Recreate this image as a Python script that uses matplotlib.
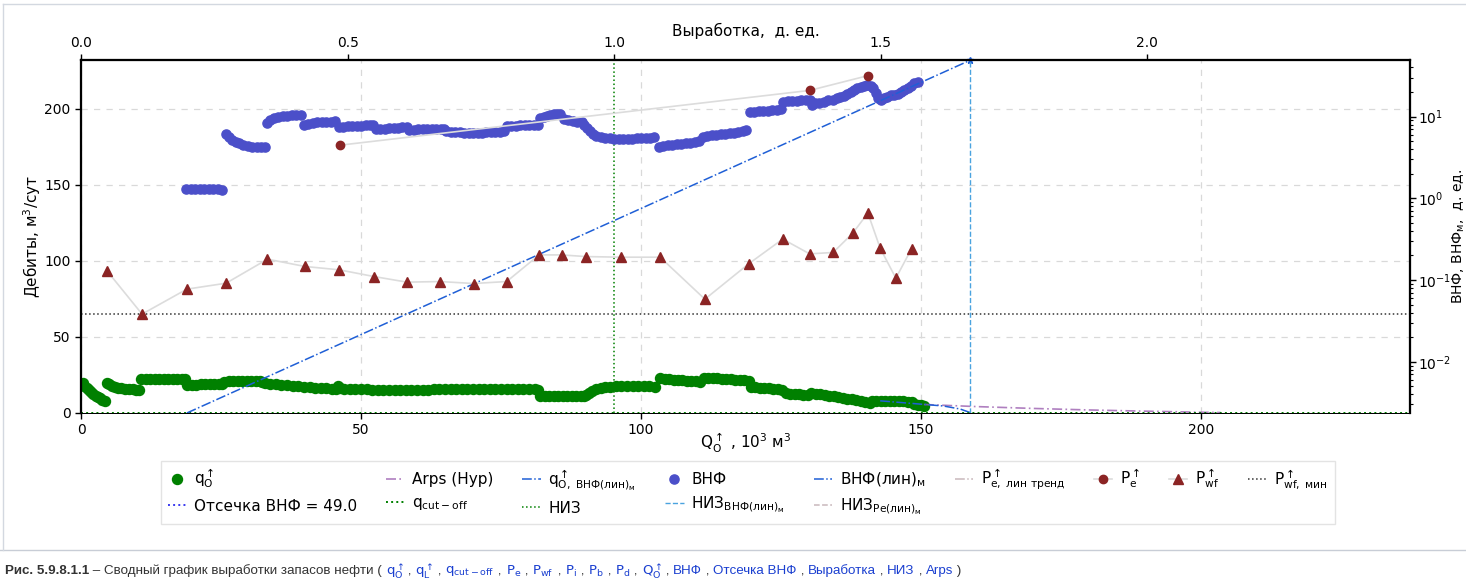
import numpy as np
import matplotlib
matplotlib.use('Agg')
import matplotlib.pyplot as plt

# ---------------- data ----------------
# q_O (left axis, м3/сут) vs Q_O (10^3 м3)
qo_Q = ([0.3, 0.6, 1.0, 1.4, 1.8, 2.2, 2.6, 3.0, 3.4, 3.8, 4.3]
        + [4.6, 5.0, 5.5, 6.0, 6.6, 7.2, 7.8, 8.5, 9.2, 9.8, 10.4]
        + [10.8, 11.6, 12.4, 13.2, 14.0, 14.8, 15.6, 16.4, 17.2, 18.0, 18.6]
        + [19.0, 19.8, 20.6, 21.4, 22.2, 23.0, 23.8, 24.6, 25.2]
        + [25.6, 26.4, 27.2, 28.0, 28.8, 29.6, 30.4, 31.2, 32.0, 32.4]
        + [32.8, 33.8, 34.8, 35.8, 36.8, 37.8, 38.8, 39.8, 40.8, 41.8, 42.8, 43.8, 44.8, 45.5, 45.8, 46.2]
        + [47.0, 48.0, 49.0, 50.0, 51.0, 52.0, 53.0, 54.0, 55.0, 56.0, 57.0, 58.0, 59.0, 60.0, 61.0,
           62.0, 63.0, 64.0, 65.0, 66.0, 67.0, 68.0, 69.0, 70.0, 71.0, 72.0, 73.0, 74.0, 75.0, 76.0,
           77.0, 78.0, 79.0, 80.0, 81.0, 81.6]
        + [82.0, 82.8, 83.6, 84.4, 85.2, 86.0, 86.8, 87.6, 88.4, 89.2, 89.8]
        + [90.2, 90.7, 91.3, 92.0, 92.8]
        + [93.5, 94.5, 95.5, 96.5, 97.5, 98.5, 99.5, 100.5, 101.5, 102.5]
        + [103.4, 104.2, 105.0, 105.8, 106.6, 107.4, 108.2, 109.0, 109.8, 110.6]
        + [111.2, 112.0, 112.8, 113.6, 114.4, 115.2, 116.0, 116.8, 117.6, 118.4, 119.2]
        + [119.6, 120.4, 121.2, 122.0, 122.8, 123.6, 124.4, 125.2]
        + [125.8, 126.6, 127.4, 128.2, 129.0, 129.8]
        + [130.4, 131.2, 132.0, 132.8, 133.6, 134.4, 135.2, 136.0, 136.8, 137.6, 138.4, 139.2, 140.0, 140.8]
        + [141.2, 142.0, 142.8, 143.6, 144.4, 145.2, 146.0, 146.8, 147.6, 148.4]
        + [148.8, 149.4, 150.0, 150.6])
qo = ([19.6, 18.0, 16.2, 14.8, 13.6, 12.5, 11.5, 10.6, 9.7, 8.8, 8.0]
      + [19.8, 18.8, 17.9, 17.2, 16.7, 16.3, 16.0, 15.7, 15.5, 15.4, 15.3]
      + [22.2, 22.3, 22.3, 22.4, 22.4, 22.5, 22.5, 22.6, 22.6, 22.6, 22.5]
      + [18.4, 18.6, 18.7, 18.8, 18.9, 18.9, 19.0, 19.1, 19.2]
      + [20.7, 20.8, 20.8, 20.9, 20.9, 20.9, 20.9, 20.8, 20.8, 20.6]
      + [19.6, 19.2, 18.8, 18.5, 18.2, 17.9, 17.6, 17.3, 17.0, 16.7, 16.4, 16.2, 16.0, 16.0, 17.8, 16.2]
      + [15.8, 15.7, 15.6, 15.5, 15.5, 15.4, 15.4, 15.3, 15.3, 15.3, 15.2, 15.2, 15.2, 15.3, 15.3,
         15.4, 15.5, 15.6, 15.7, 15.7, 15.7, 15.8, 15.8, 15.8, 15.9, 15.9, 15.9, 16.0, 16.0, 16.0,
         15.9, 15.8, 15.7, 15.6, 15.5, 15.4]
      + [11.0, 11.0, 10.9, 10.9, 10.9, 11.0, 11.0, 11.1, 11.1, 11.2, 11.3]
      + [11.8, 13.2, 14.6, 15.8, 16.6]
      + [16.9, 17.2, 17.5, 17.7, 17.8, 17.9, 17.9, 17.8, 17.6, 17.3]
      + [23.2, 22.6, 22.2, 21.9, 21.7, 21.5, 21.3, 21.1, 20.9, 20.5]
      + [23.2, 23.0, 22.8, 22.7, 22.5, 22.3, 22.1, 21.9, 21.7, 21.4, 21.0]
      + [17.2, 16.9, 16.7, 16.5, 16.3, 16.0, 15.6, 15.0]
      + [12.9, 12.6, 12.4, 12.3, 12.1, 12.0]
      + [13.2, 12.7, 12.2, 11.7, 11.3, 10.9, 10.5, 10.0, 9.5, 9.0, 8.3, 7.6, 7.0, 6.4]
      + [7.6, 7.9, 8.0, 7.9, 8.2, 8.0, 7.8, 7.7, 7.5, 7.0]
      + [5.8, 5.3, 5.0, 4.7])

# ВНФ (right log axis, д. ед.)
wor_Q = ([18.8, 19.6, 20.4, 21.2, 22.0, 22.8, 23.6, 24.4, 25.2]
         + [25.9, 26.4, 27.0, 27.6, 28.3, 29.0, 29.8, 30.6, 31.4, 32.2, 32.8]
         + [33.2, 33.8, 34.5, 35.2, 36.0, 36.8, 37.6, 38.4, 39.2]
         + [39.9, 40.6, 41.4, 42.2, 43.0, 43.8, 44.6, 45.4]
         + [46.0, 46.8, 47.6, 48.4, 49.2, 50.0, 50.8, 51.6, 52.2]
         + [52.6, 53.4, 54.2, 55.0, 55.8, 56.6, 57.4, 58.2]
         + [58.6, 59.4, 60.2, 61.0, 61.8, 62.6, 63.4, 64.2, 64.8]
         + [65.2, 66.0, 66.8, 67.6, 68.4, 69.2, 70.0, 70.8, 71.6, 72.4, 73.2, 74.0, 74.8, 75.6]
         + [76.0, 76.8, 77.6, 78.4, 79.2, 80.0, 80.8, 81.6]
         + [82.0, 82.6, 83.2, 83.8, 84.4, 85.0, 85.6]
         + [86.2, 87.0, 87.8, 88.6, 89.4, 89.9, 90.4, 90.9, 91.4, 92.0, 92.8, 93.6, 94.4, 95.2,
            96.0, 96.8, 97.6, 98.4, 99.2, 100.0, 100.8, 101.6, 102.4]
         + [103.2, 104.0, 104.8, 105.6, 106.4, 107.2, 108.0, 108.8, 109.6, 110.4]
         + [111.0, 111.8, 112.6, 113.4, 114.2, 115.0, 115.8, 116.6, 117.4, 118.2, 118.8]
         + [119.4, 120.2, 121.0, 121.8, 122.6, 123.4, 124.2, 125.0]
         + [125.4, 126.2, 127.0, 127.8, 128.6, 129.4, 130.2, 130.6]
         + [131.0, 131.8, 132.6, 133.4, 134.2, 135.0]
         + [135.6, 136.2, 136.8, 137.4, 138.0, 138.6, 139.2, 139.8, 140.4, 141.0, 141.5, 141.9, 142.3]
         + [142.8, 143.4, 144.0, 144.6, 145.2, 145.8, 146.4, 147.0, 147.6, 148.2, 148.8, 149.4])
wor = ([1.30, 1.30, 1.30, 1.30, 1.29, 1.29, 1.29, 1.29, 1.28]
       + [6.1, 5.6, 5.2, 4.9, 4.7, 4.55, 4.4, 4.3, 4.25, 4.2, 4.2]
       + [8.3, 9.1, 9.6, 9.9, 10.1, 10.3, 10.4, 10.5, 10.6]
       + [7.9, 8.2, 8.4, 8.5, 8.6, 8.7, 8.7, 8.8]
       + [7.4, 7.5, 7.6, 7.6, 7.7, 7.7, 7.8, 7.8, 7.9]
       + [7.0, 7.1, 7.1, 7.2, 7.3, 7.3, 7.4, 7.5]
       + [6.9, 6.9, 7.0, 7.0, 7.0, 7.0, 7.1, 7.1, 7.1]
       + [6.6, 6.55, 6.5, 6.45, 6.4, 6.4, 6.4, 6.4, 6.4, 6.45, 6.5, 6.5, 6.55, 6.6]
       + [7.6, 7.7, 7.7, 7.8, 7.8, 7.9, 7.9, 8.0]
       + [9.5, 9.9, 10.2, 10.5, 10.7, 10.8, 10.8]
       + [9.3, 9.1, 8.9, 8.7, 8.5, 8.0, 7.3, 6.6, 6.1, 5.8, 5.6, 5.5, 5.45, 5.4,
          5.4, 5.4, 5.4, 5.4, 5.45, 5.45, 5.5, 5.5, 5.6]
       + [4.3, 4.35, 4.45, 4.5, 4.6, 4.65, 4.75, 4.8, 4.9, 5.0]
       + [5.7, 5.8, 5.9, 6.0, 6.1, 6.2, 6.3, 6.4, 6.5, 6.65, 6.8]
       + [11.3, 11.5, 11.7, 11.8, 11.9, 12.0, 12.2, 12.4]
       + [15.2, 15.4, 15.5, 15.7, 15.8, 16.0, 16.2, 14.0]
       + [14.5, 14.9, 15.3, 15.8, 16.2, 16.8]
       + [17.2, 17.8, 18.8, 20.0, 21.2, 22.3, 23.2, 24.0, 24.4, 23.8, 22.5, 19.5, 17.0]
       + [16.2, 16.8, 17.5, 18.2, 18.6, 19.2, 20.0, 21.0, 22.5, 24.0, 25.5, 26.5])

# pressures (left axis)
pe_Q = [46.2, 130.1, 140.5]
pe = [176.0, 212.0, 221.7]
pwf_Q = [4.6, 10.9, 18.9, 25.9, 33.3, 40.0, 46.1, 52.3, 58.2, 64.1, 70.1, 76.0, 81.8, 85.8,
         90.2, 96.5, 103.4, 111.4, 119.2, 125.3, 130.1, 134.3, 137.8, 140.5, 142.7, 145.5, 148.3]
pwf = [93.6, 65.0, 81.4, 85.3, 101.1, 96.3, 94.1, 89.7, 86.0, 86.4, 85.1, 86.4, 103.9, 103.9,
       102.8, 102.4, 102.4, 74.8, 98.0, 114.3, 104.6, 105.5, 118.2, 131.4, 108.3, 88.6, 108.0]
pwf_min = 65.0

# forecasts
arps_Q = [150.5, 160.0, 170.0, 180.0, 190.0, 200.0, 203.5]
arps_q = [5.6, 4.2, 3.0, 2.0, 1.2, 0.5, 0.3]
qo_wor_Q = [142.7, 146.0, 150.0, 154.0, 157.0, 158.75]
qo_wor_q = [8.0, 7.0, 5.8, 4.6, 2.6, 0.3]
wor_lin_Q = [18.9, 158.75]
wor_lin = [0.00236, 49.0]

wor_cutoff = 49.0
q_cutoff = 0.0
niz = 95.2            # НИЗ, 10^3 м3
niz_wor = 158.75      # НИЗ по ВНФ(лин)м

# ---------------- figure ----------------
plt.rcParams['font.family'] = ['DejaVu Sans']
plt.rcParams['mathtext.fontset'] = 'dejavusans'

fig = plt.figure(figsize=(14.66, 5.79), dpi=100)
ax = fig.add_axes([81 / 1466, 1 - 413 / 579, 1329 / 1466, 353 / 579])
ax_r = ax.twinx()
ax_p = ax.twinx()
ax_t = ax.twiny()

x_max = 237.3
ax.set_xlim(0, x_max)
ax.set_ylim(0, 232)
ax_p.set_ylim(0, 232)
ax_r.set_yscale('log')
ax_r.set_ylim(0.00236, 49.4)
ax_t.set_xlim(0, x_max / niz)

grid_kw = dict(color='#d9d9d9', ls=(0, (5, 5)), lw=0.9)
ax.grid(True, **grid_kw)

# left axis series
h_qo, = ax.plot(qo_Q, qo, 'o', color='green', ms=7.2, mec='green', ls='none', label='$\\mathrm{q}_\\mathrm{O}^{\\uparrow}$')
h_arps, = ax.plot(arps_Q, arps_q, ls=(0, (6, 2, 1, 2)), color='#9b5fb0', lw=1.2, alpha=0.8, label='Arps (Hyp)')
h_qow, = ax.plot(qo_wor_Q, qo_wor_q, ls='-.', color='#1f5fd6', lw=1.1,
                 label='$\\mathrm{q}^{\\uparrow}_{\\mathrm{O,\\ ВНФ(лин)_м}}$')
h_qcut = ax.axhline(q_cutoff, color='green', ls=':', lw=1.4, clip_on=False, zorder=5,
                    label='$\\mathrm{q}_{\\mathrm{cut-off}}$')
h_niz = ax.axvline(niz, color='green', ls=':', lw=1.1, label='НИЗ')
h_pwfmin = ax.axhline(pwf_min, color='#333333', ls=':', lw=1.1,
                      label='$\\mathrm{P}^{\\uparrow}_{\\mathrm{wf,\\ мин}}$')

# right (log) axis series
h_wor, = ax_r.plot(wor_Q, wor, 'o', color='#4b4fc9', mec='#4b4fc9', ms=6.6, ls='none', label='ВНФ')
h_worlin, = ax_r.plot(wor_lin_Q, wor_lin, ls='-.', color='#1f5fd6', lw=1.1, label='ВНФ(лин)$_\\mathrm{м}$')
ax_r.plot([niz_wor], [wor_cutoff], '*', color='#1f5fd6', ms=5, clip_on=False)
h_cut = ax_r.axhline(wor_cutoff, color='#3a3af0', ls=':', lw=1.4, label='Отсечка ВНФ = 49.0')
h_nizw = ax_r.axvline(niz_wor, color='#4aa3df', ls='--', lw=1.0,
                      label='НИЗ$_{\\mathrm{ВНФ(лин)_м}}$')

# pressures on top
h_pe, = ax_p.plot(pe_Q, pe, '-o', color='#dcdcdc', mfc='#8b2424', mec='#8b2424', ms=6, lw=1.2,
                  label='$\\mathrm{P}^{\\uparrow}_\\mathrm{e}$')
h_pwf, = ax_p.plot(pwf_Q, pwf, '-^', color='#dcdcdc', mfc='#8b2424', mec='#8b2424', ms=6.5, lw=1.2,
                   label='$\\mathrm{P}^{\\uparrow}_\\mathrm{wf}$')
h_petr, = ax_p.plot([], [], ls='-.', color='#c9b8bc', lw=1.1,
                    label='$\\mathrm{P}^{\\uparrow}_{\\mathrm{e,\\ лин\\ тренд}}$')
h_nizpe, = ax_p.plot([], [], ls='--', color='#c9b8bc', lw=1.1,
                     label='НИЗ$_{\\mathrm{Pe(лин)_м}}$')
ax_p.axis('off')

# axes styling
ax.set_xticks([0, 50, 100, 150, 200])
ax.set_yticks([0, 50, 100, 150, 200])
ax_t.set_xticks([0.0, 0.5, 1.0, 1.5, 2.0])
ax_t.set_xticklabels(['0.0', '0.5', '1.0', '1.5', '2.0'])
for a in (ax, ax_r, ax_t):
    a.tick_params(labelsize=10, width=1, length=4)
    for s in a.spines.values():
        s.set_linewidth(1.5)
        s.set_color('black')
ax_r.tick_params(axis='y', which='both', pad=2)
ax_r.tick_params(axis='y', which='minor', length=2.5, width=0.8)
for a in (ax, ax_r, ax_t):
    a.spines['bottom'].set_linewidth(0.6)

ax.set_xlabel('$\\mathrm{Q}^{\\uparrow}_\\mathrm{O}$ , 10$^3$ м$^3$', fontsize=11, labelpad=-4)
ax.set_ylabel('Дебиты, м$^3$/сут', fontsize=11)
ax.yaxis.set_label_coords(-0.0286, 0.5)
ax_t.set_xlabel('Выработка,  д. ед.', fontsize=11, labelpad=0)
ax_r.set_ylabel('ВНФ, ВНФ$_\\mathrm{м}$,  д. ед.', fontsize=10)
ax_r.yaxis.set_label_coords(1.0303, 0.5)

handles = [h_qo, h_cut, h_arps, h_qcut, h_qow, h_niz, h_wor, h_nizw, h_worlin, h_nizpe,
           h_petr, h_pe, h_pwf, h_pwfmin]
fig.legend(handles=handles, labels=[h.get_label() for h in handles], ncol=9,
           loc='upper left', bbox_to_anchor=(161 / 1466, 1 - 461 / 579), borderaxespad=0,
           fontsize=11, handlelength=1.2, columnspacing=1.9, handletextpad=0.5,
           frameon=True, edgecolor='#dddddd', fancybox=False, borderpad=0.45)

# page frame and caption
fig.add_artist(plt.Line2D([0, 1], [1 - 550 / 579] * 2, color='#c8cdd6', lw=1, transform=fig.transFigure))
fig.add_artist(plt.Line2D([3 / 1466, 3 / 1466], [1 - 550 / 579, 1 - 4 / 579], color='#d3d8e0', lw=1,
                          transform=fig.transFigure))
fig.add_artist(plt.Line2D([3 / 1466, 1], [1 - 4 / 579] * 2, color='#d3d8e0', lw=1, transform=fig.transFigure))

caption = [('Рис. 5.9.8.1.1', '#333333', 'bold'), (' – Сводный график выработки запасов нефти ( ', '#333333', 'normal')]
items = ['$\\mathrm{q}^{\\uparrow}_\\mathrm{O}$', '$\\mathrm{q}^{\\uparrow}_\\mathrm{L}$',
         '$\\mathrm{q}_{\\mathrm{cut-off}}$', '$\\mathrm{P}_\\mathrm{e}$', '$\\mathrm{P}_\\mathrm{wf}$',
         '$\\mathrm{P}_\\mathrm{i}$', '$\\mathrm{P}_\\mathrm{b}$', '$\\mathrm{P}_\\mathrm{d}$',
         '$\\mathrm{Q}^{\\uparrow}_\\mathrm{O}$', 'ВНФ', 'Отсечка ВНФ', 'Выработка', 'НИЗ', 'Arps']
for i, it in enumerate(items):
    caption.append((it, '#1a3fd0', 'normal'))
    caption.append((' , ' if i < len(items) - 1 else ' )', '#333333', 'normal'))

renderer = fig.canvas.get_renderer()
x0 = 5
for txt, col, wt in caption:
    t = fig.text(x0 / 1466, 1 - 571 / 579, txt, color=col, fontweight=wt, fontsize=9.6,
                 family='Liberation Sans', va='center', ha='left')
    x0 += t.get_window_extent(renderer).width

fig.savefig('out.png', dpi=100)
